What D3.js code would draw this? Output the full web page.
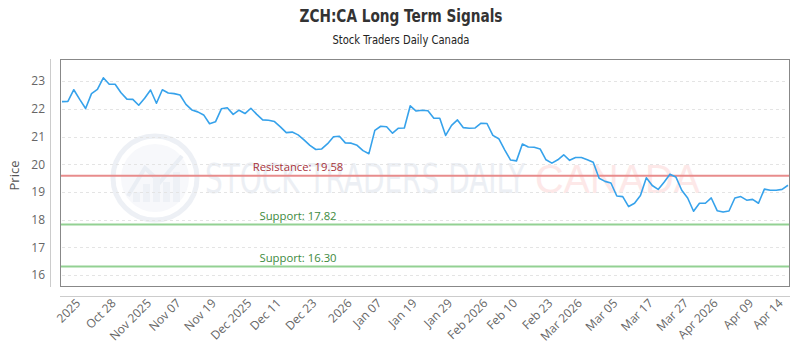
<!DOCTYPE html>
<html>
<head>
<meta charset="utf-8">
<script src="https://cdn.jsdelivr.net/npm/d3@7/dist/d3.min.js"></script>
<style>
  html, body { margin: 0; padding: 0; background: #fff; }
  svg { display: block; }
</style>
</head>
<body>
<svg id="chart" width="800" height="350"></svg>
<script>
// ---- data ----
const prices = [
  22.26, 22.27, 22.69, 22.34, 22.01, 22.55, 22.70, 23.12, 22.89, 22.89,
  22.58, 22.35, 22.34, 22.13, 22.38, 22.68, 22.20, 22.69, 22.57, 22.55,
  22.50, 22.16, 21.96, 21.89, 21.78, 21.46, 21.53, 22.00, 22.04, 21.80,
  21.95, 21.83, 22.02, 21.80, 21.60, 21.59, 21.54, 21.35, 21.14, 21.16,
  21.06, 20.88, 20.68, 20.53, 20.55, 20.74, 20.99, 21.01, 20.77, 20.76,
  20.68, 20.49, 20.38, 21.22, 21.37, 21.35, 21.12, 21.30, 21.31, 22.11,
  21.92, 21.95, 21.93, 21.66, 21.66, 21.04, 21.40, 21.60, 21.32, 21.30,
  21.31, 21.48, 21.47, 21.04, 20.92, 20.52, 20.15, 20.12, 20.73, 20.62,
  20.61, 20.55, 20.16, 20.04, 20.16, 20.34, 20.14, 20.24, 20.24, 20.16,
  20.07, 19.49, 19.38, 19.32, 18.85, 18.83, 18.47, 18.59, 18.87, 19.51,
  19.23, 19.09, 19.35, 19.64, 19.54, 19.06, 18.78, 18.30, 18.59, 18.59,
  18.78, 18.32, 18.27, 18.31, 18.78, 18.83, 18.70, 18.73, 18.59, 19.10,
  19.06, 19.06, 19.09, 19.24
];
const tickLabels = ["2025", "Oct 28", "Nov 2025", "Nov 07", "Nov 19", "Dec 2025", "Dec 11", "Dec 23",
  "2026", "Jan 07", "Jan 19", "Jan 29", "Feb 2026", "Feb 10", "Feb 23", "Mar 2026", "Mar 05",
  "Mar 17", "Mar 27", "Apr 2026", "Apr 09", "Apr 14"];
const tickIndex = [3, 9, 15, 20, 26, 32, 37, 43, 49, 54, 60, 66, 72, 77, 83, 88, 94, 100, 106, 111, 117, 122];
const yTicks = [16, 17, 18, 19, 20, 21, 22, 23];
const levelNames = ["Resistance", "Support", "Support"];
const levelValues = [19.58, 17.82, 16.30];

// ---- layout ----
const svg = d3.select("#chart");
const frame = { left: 60, right: 790, top: 59, bottom: 286 };
const x = d3.scaleLinear().domain([0, prices.length - 1]).range([62, 788]);
const y = d3.scaleLinear().domain([15.6, 23.8]).range([frame.bottom, frame.top]);
const condensed = "'DejaVu Sans Condensed', 'Liberation Sans Narrow', sans-serif";

// Watermark (drawn first, behind everything)
const wm = svg.append("g").attr("class", "watermark");
wm.append("circle").attr("cx", 155).attr("cy", 178).attr("r", 42)
  .attr("fill", "none").attr("stroke", "#edf0f5").attr("stroke-width", 5);
wm.append("circle").attr("cx", 155).attr("cy", 178).attr("r", 34)
  .attr("fill", "#f7f8fb");
wm.append("path").attr("d", "M128,196 L145,168 L160,182 L182,156")
  .attr("fill", "none").attr("stroke", "#eaeef4").attr("stroke-width", 4);
[[133, 10], [143, 18], [153, 26], [163, 20], [173, 30]].forEach(([bx, bh]) => {
  wm.append("rect").attr("x", bx).attr("y", 202 - bh).attr("width", 7).attr("height", bh)
    .attr("fill", "#eef1f6");
});
wm.append("text").attr("x", 205).attr("y", 193)
  .attr("font-family", condensed)
  .attr("font-size", 40).attr("fill", "#eceff4")
  .attr("textLength", 320).attr("lengthAdjust", "spacingAndGlyphs")
  .text("STOCK TRADERS DAILY");
wm.append("text").attr("x", 535).attr("y", 193)
  .attr("font-family", "'Liberation Sans', sans-serif")
  .attr("font-size", 40).attr("fill", "#fde8e8")
  .attr("textLength", 165).attr("lengthAdjust", "spacingAndGlyphs")
  .text("CANADA");

// Title
svg.append("text").attr("x", 401).attr("y", 22).attr("text-anchor", "middle")
  .attr("font-family", condensed)
  .attr("font-weight", "bold").attr("font-size", 17).attr("fill", "#333")
  .attr("textLength", 203).attr("lengthAdjust", "spacingAndGlyphs")
  .text("ZCH:CA Long Term Signals");
svg.append("text").attr("x", 401).attr("y", 44).attr("text-anchor", "middle")
  .attr("font-family", condensed)
  .attr("font-size", 12).attr("fill", "#222")
  .attr("textLength", 137).attr("lengthAdjust", "spacingAndGlyphs")
  .text("Stock Traders Daily Canada");

// Gridlines
svg.append("g").selectAll("line").data(yTicks).join("line")
  .attr("x1", frame.left + 2).attr("x2", frame.right - 2)
  .attr("y1", d => Math.round(y(d)) + 0.5).attr("y2", d => Math.round(y(d)) + 0.5)
  .attr("stroke", "#e4e4e4").attr("stroke-dasharray", "3,3");

// Y axis
const yAxis = d3.axisLeft(y).tickValues(yTicks).tickSize(0).tickPadding(0).tickFormat(d3.format("d"));
const gy = svg.append("g").attr("transform", `translate(45,0)`).call(yAxis);
gy.select(".domain").remove();
gy.selectAll("text").attr("font-family", "'Open Sans', sans-serif").attr("font-size", 12).attr("fill", "#666");
svg.append("line").attr("x1", 50.5).attr("x2", 50.5).attr("y1", frame.top).attr("y2", frame.bottom + 1)
  .attr("stroke", "#ccc");
svg.append("text").attr("transform", `translate(19,${(frame.top + frame.bottom) / 2 + 3}) rotate(-90)`)
  .attr("text-anchor", "middle").attr("font-family", "'Open Sans', sans-serif")
  .attr("font-size", 13).attr("fill", "#555").text("Price");

// X axis
const xAxis = d3.axisBottom(x).tickValues(tickIndex).tickSize(0).tickPadding(0)
  .tickFormat((d, i) => tickLabels[i]);
const gx = svg.append("g").attr("transform", `translate(0,296)`).call(xAxis);
gx.select(".domain").attr("stroke", "#ccc").attr("d", `M${frame.left},0.5H${frame.right}`);
gx.selectAll("text")
  .attr("font-family", "'Open Sans', sans-serif").attr("font-size", 12).attr("fill", "#666")
  .attr("text-anchor", "end").attr("dy", null).attr("y", 0)
  .attr("transform", "translate(1,8) rotate(-45)");

// Level lines
const levelColor = ["#e88c8c", "#93d193", "#93d193"];
const labelColor = ["#a8323a", "#3d8a3d", "#3d8a3d"];
svg.append("g").selectAll("line").data(levelValues).join("line")
  .attr("x1", frame.left).attr("x2", frame.right)
  .attr("y1", d => y(d)).attr("y2", d => y(d))
  .attr("stroke", (d, i) => levelColor[i]).attr("stroke-width", 2);
svg.append("g").selectAll("text").data(levelValues).join("text")
  .attr("x", 298).attr("y", d => y(d) - 5)
  .attr("text-anchor", "middle")
  .attr("font-family", "'Open Sans', sans-serif").attr("font-size", 11.3)
  .attr("fill", (d, i) => labelColor[i])
  .text((d, i) => `${levelNames[i]}: ${d.toFixed(2)}`);

// Price line
const line = d3.line().x((d, i) => x(i)).y(d => y(d));
svg.append("path").datum(prices).attr("d", line)
  .attr("fill", "none").attr("stroke", "#36a2eb").attr("stroke-width", 1.6)
  .attr("stroke-linejoin", "round");

// Frame
svg.append("rect").attr("x", frame.left + 0.5).attr("y", frame.top + 0.5)
  .attr("width", frame.right - frame.left - 1).attr("height", frame.bottom - frame.top)
  .attr("fill", "none").attr("stroke", "#888").attr("stroke-width", 1);
</script>
</body>
</html>
